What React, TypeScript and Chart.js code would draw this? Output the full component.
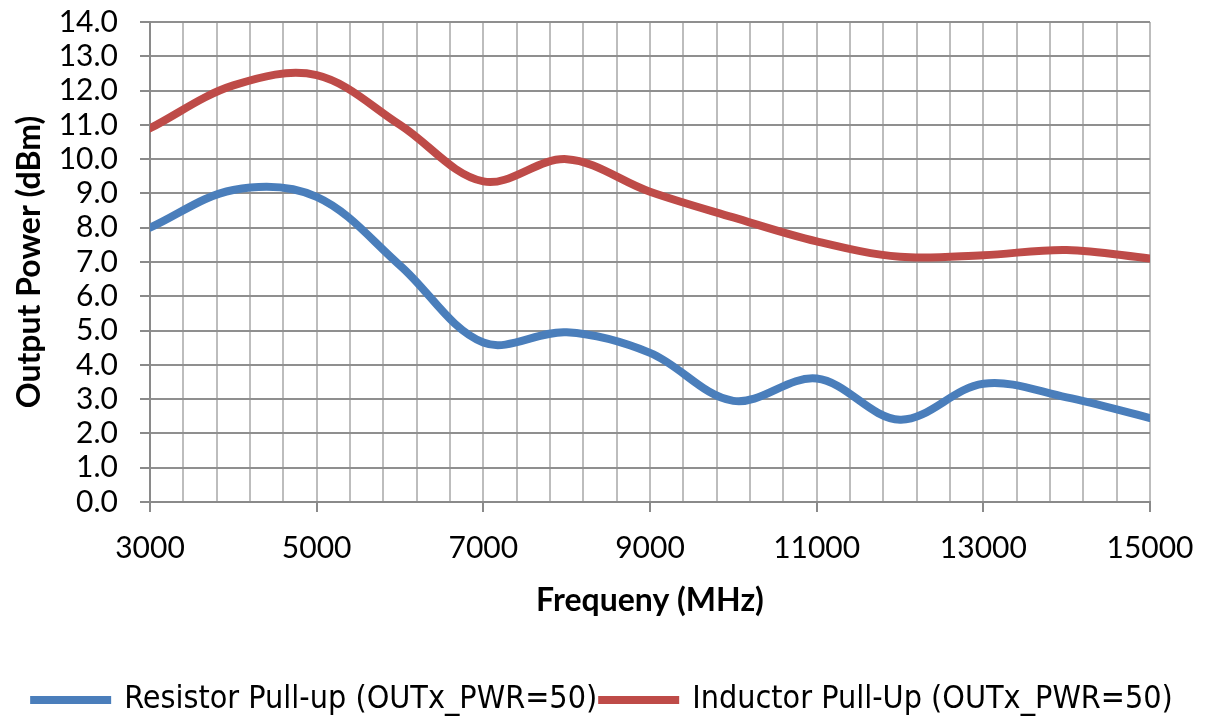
import React, { useEffect, useRef } from "react";
import { Chart, registerables } from "chart.js";

Chart.register(...registerables);

const frequencies = [3000, 4000, 5000, 6000, 7000, 8000, 9000, 10000, 11000, 12000, 13000, 14000, 15000];
const resistorPullUp = [8.0, 9.1, 8.9, 6.9, 4.65, 4.95, 4.35, 2.95, 3.6, 2.4, 3.45, 3.05, 2.45];
const inductorPullUp = [10.9, 12.15, 12.45, 11.0, 9.35, 10.0, 9.05, 8.3, 7.6, 7.15, 7.2, 7.35, 7.1];
const seriesLabels = ["Resistor Pull-up (OUTx_PWR=50)", "Inductor Pull-Up (OUTx_PWR=50)"];
const xTitle = "Frequeny (MHz)";
const yTitle = "Output Power (dBm)";
const xMin = 3000;
const xMax = 15000;
const xGridStep = 400;
const xLabelStep = 2000;
const yMin = 0;
const yMax = 14;

const FONT = "Lato, 'Open Sans', sans-serif";

export default function App() {
  const ref = useRef<HTMLCanvasElement | null>(null);

  useEffect(() => {
    document.body.style.margin = "0";
    if (!ref.current) return;
    const chart = new Chart(ref.current, {
      type: "line",
      data: {
        datasets: [
          {
            label: seriesLabels[0],
            data: frequencies.map((f, i) => ({ x: f, y: resistorPullUp[i] })),
            borderColor: "#4A7EBB",
            backgroundColor: "#4A7EBB",
            borderWidth: 8,
            pointRadius: 0,
            tension: 0.35,
            borderCapStyle: "round",
          },
          {
            label: seriesLabels[1],
            data: frequencies.map((f, i) => ({ x: f, y: inductorPullUp[i] })),
            borderColor: "#BE4B48",
            backgroundColor: "#BE4B48",
            borderWidth: 8,
            pointRadius: 0,
            tension: 0.35,
            borderCapStyle: "round",
          },
        ],
      },
      options: {
        animation: false,
        responsive: false,
        layout: { padding: { top: 22, right: 0, left: 0, bottom: -9 } },
        plugins: {
          tooltip: { enabled: false },
          legend: {
            position: "bottom",
            labels: {
              color: "#000",
              font: { family: "'DejaVu Sans Condensed', 'Liberation Sans Narrow', " + FONT, size: 32 },
              boxWidth: 75,
              boxHeight: 2,
              padding: 4,
              generateLabels: (c: any) =>
                c.data.datasets.map((ds: any, i: number) => ({
                  text: ds.label,
                  fillStyle: ds.borderColor,
                  strokeStyle: ds.borderColor,
                  lineWidth: 6,
                  lineCap: "round",
                  hidden: false,
                  datasetIndex: i,
                  fontColor: "#000",
                })),
            },
          },
        },
        scales: {
          x: {
            type: "linear",
            min: xMin,
            max: xMax,
            afterBuildTicks: (scale: any) => {
              const t = [];
              for (let v = xMin; v <= xMax; v += xGridStep) t.push({ value: v });
              scale.ticks = t;
            },
            afterFit: (scale: any) => {
              scale.height = 178;
              scale.paddingLeft = 0;
              scale.paddingRight = 56;
            },
            ticks: {
              autoSkip: false,
              maxRotation: 0,
              color: "#000",
              font: { family: FONT, size: 30 },
              padding: 18,
              callback: (v: any) => ((Number(v) - xMin) % xLabelStep === 0 ? String(v) : ""),
            },
            grid: {
              color: "#bdbdbd",
              lineWidth: 2,
              tickLength: 10,
              tickColor: (ctx: any) =>
                ctx.tick && (ctx.tick.value - xMin) % xLabelStep === 0 ? "#8a8a8a" : "rgba(0,0,0,0)",
            },
            border: { color: "#8a8a8a", width: 2 },
            title: {
              display: true,
              text: xTitle,
              color: "#000",
              font: { family: FONT, size: 32, weight: "bold" },
              padding: { top: 10, bottom: 60 },
            },
          },
          y: {
            min: yMin,
            max: yMax,
            afterFit: (scale: any) => {
              scale.width = 150;
              scale.paddingTop = 0;
              scale.paddingBottom = 0;
            },
            ticks: {
              stepSize: 1,
              autoSkip: false,
              color: "#000",
              font: { family: FONT, size: 30 },
              padding: 22,
              callback: (v: any) => Number(v).toFixed(1),
            },
            grid: {
              color: "#8f8f8f",
              lineWidth: 2,
              tickLength: 10,
              tickColor: "#8a8a8a",
            },
            border: { color: "#8a8a8a", width: 2 },
            title: {
              display: true,
              text: yTitle,
              color: "#000",
              font: { family: FONT, size: 32, weight: "bold" },
              padding: { top: 10, bottom: 0 },
            },
          },
        },
      },
    });
    return () => chart.destroy();
  }, []);

  return (
    <div style={{ width: 1206, height: 717, background: "#fff" }}>
      <canvas ref={ref} width={1206} height={717} />
    </div>
  );
}
